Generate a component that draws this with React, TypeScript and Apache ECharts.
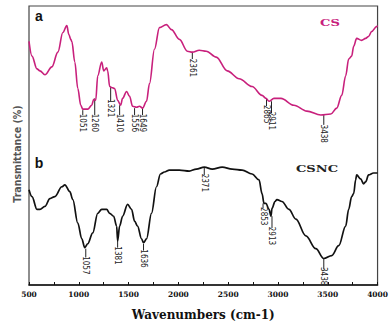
import React, { useEffect, useRef } from "react";
import * as echarts from "echarts";

// CS spectrum (wavenumber cm-1, transmittance arb. units)
const csWavenumber = [500, 530, 580, 610, 660, 730, 790, 840, 880, 900, 920, 930, 960, 990, 1020, 1040, 1090, 1130, 1150, 1170, 1190, 1230, 1250, 1280, 1290, 1310, 1330, 1360, 1390, 1420, 1440, 1480, 1510, 1540, 1580, 1610, 1640, 1680, 1710, 1760, 1810, 1880, 1930, 2010, 2090, 2140, 2210, 2280, 2380, 2490, 2610, 2740, 2840, 2880, 2910, 2960, 3030, 3160, 3290, 3430, 3530, 3590, 3640, 3680, 3710, 3740, 3760, 3790, 3840, 3880, 3910, 3940, 3990, 4000];
const csTransmittance = [248, 233, 220, 218, 214, 222, 237, 257, 264, 255, 250, 248, 227, 200, 183, 179, 179, 183, 189, 188, 213, 227, 218, 221, 218, 202, 201, 200, 188, 183, 190, 197, 192, 182, 181, 182, 180, 187, 205, 240, 262, 265, 260, 250, 238, 237, 239, 238, 232, 218, 210, 202, 193, 190, 187, 190, 190, 183, 177, 173, 174, 180, 193, 213, 230, 233, 243, 251, 249, 251, 253, 258, 263, 264];

// CSNC spectrum
const csncWavenumber = [500, 530, 580, 610, 660, 710, 760, 830, 860, 910, 940, 990, 1030, 1060, 1090, 1140, 1190, 1230, 1280, 1310, 1350, 1380, 1390, 1410, 1440, 1490, 1530, 1560, 1590, 1630, 1650, 1680, 1730, 1780, 1820, 1860, 1910, 2010, 2110, 2180, 2260, 2340, 2440, 2540, 2640, 2740, 2810, 2840, 2860, 2880, 2910, 2930, 2940, 2970, 2990, 3040, 3110, 3180, 3280, 3380, 3460, 3540, 3610, 3680, 3710, 3740, 3760, 3780, 3790, 3830, 3860, 3880, 3910, 3960, 4000];
const csncTransmittance = [97, 90, 77, 77, 80, 88, 90, 100, 102, 95, 87, 63, 47, 38, 42, 53, 73, 77, 77, 73, 70, 60, 45, 60, 70, 82, 77, 65, 60, 47, 43, 47, 73, 100, 113, 115, 117, 117, 116, 118, 120, 118, 120, 118, 117, 113, 107, 93, 83, 83, 77, 70, 78, 85, 87, 85, 77, 67, 50, 37, 27, 30, 40, 60, 77, 90, 93, 107, 112, 108, 103, 105, 112, 114, 114];

// Peak annotations: label, x, line top, line bottom, label centre (data units)
const csPeakLabels = ["1051", "1260", "1321", "1410", "1556", "1649", "2361", "2865", "2911", "3438"];
const csPeakX = [1040, 1160, 1320, 1410, 1560, 1640, 2140, 2885, 2935, 3460];
const csPeakTop = [178, 190, 202, 183, 180, 180, 237, 190, 187, 173];
const csPeakBottom = [173, 173, 187, 173, 173, 173, 230, 182, 175, 163];
const csPeakLabelY = [165, 165, 180, 165, 165, 165, 221, 174, 167, 154];

const csncPeakLabels = ["1057", "1381", "1636", "2371", "2853", "2913", "3438"];
const csncPeakX = [1070, 1390, 1650, 2260, 2850, 2940, 3460];
const csncPeakTop = [37, 45, 42, 120, 83, 70, 27];
const csncPeakBottom = [28, 38, 35, 112, 78, 58, 16];
const csncPeakLabelY = [20, 30, 27, 104, 70, 50, 9];

const CS_COLOR = "#c8207c";

function pairs(xs: number[], ys: number[]) {
  return xs.map((x, i) => [x, ys[i]]);
}

function peakSeries(labels: string[], xs: number[], tops: number[], bottoms: number[], ly: number[]) {
  return {
    type: "custom",
    silent: true,
    data: xs.map((x, i) => [x, tops[i], bottoms[i], ly[i]]),
    encode: { x: 0, y: 1 },
    renderItem: (params: any, api: any) => {
      const x = api.value(0);
      const p1 = api.coord([x, api.value(1)]);
      const p2 = api.coord([x, api.value(2)]);
      const pl = api.coord([x, api.value(3)]);
      return {
        type: "group",
        children: [
          {
            type: "line",
            shape: { x1: p1[0], y1: p1[1], x2: p2[0], y2: p2[1] },
            style: { stroke: "#222", lineWidth: 1 },
          },
          {
            type: "text",
            x: pl[0],
            y: pl[1],
            rotation: -Math.PI / 2,
            style: {
              text: labels[params.dataIndex],
              fontSize: 8,
              fontFamily: "'Liberation Sans Narrow', 'DejaVu Sans Condensed', sans-serif",
              fill: "#222",
              align: "center",
              verticalAlign: "middle",
            },
          },
        ],
      };
    },
  };
}

export default function App() {
  const ref = useRef<HTMLDivElement>(null);
  useEffect(() => {
    if (!ref.current) return;
    const chart = echarts.init(ref.current, undefined, { renderer: "svg" });
    chart.setOption({
      animation: false,
      grid: {
        left: 29,
        right: 12,
        top: 6,
        bottom: 36,
        show: true,
        borderColor: "#444",
        borderWidth: 1.2,
        backgroundColor: "transparent",
      },
      xAxis: {
        type: "value",
        min: 500,
        max: 4000,
        interval: 250,
        name: "Wavenumbers (cm-1)",
        nameLocation: "middle",
        nameGap: 24,
        nameTextStyle: {
          fontFamily: "'DejaVu Serif', serif",
          fontWeight: "bold",
          fontSize: 12,
          color: "#111",
        },
        axisLine: { show: true, lineStyle: { color: "#111", width: 1.5 } },
        axisTick: { show: true, inside: true, length: 3, lineStyle: { color: "#111" } },
        axisLabel: {
          margin: 5,
          fontFamily: "'DejaVu Serif', serif",
          fontWeight: "bold",
          fontSize: 7.5,
          color: "#111",
          formatter: (v: number) => (v % 500 === 0 ? String(v) : ""),
        },
        splitLine: { show: false },
      },
      yAxis: {
        type: "value",
        min: 0,
        max: 284,
        show: false,
        splitLine: { show: false },
      },
      graphic: [
        {
          type: "text",
          x: 17,
          y: 154,
          rotation: Math.PI / 2,
          style: {
            text: "Transmittance (%)",
            fontFamily: "'Liberation Sans Narrow', 'DejaVu Sans Condensed', sans-serif",
            fontWeight: "bold",
            fontSize: 10.5,
            fill: "#555",
            align: "center",
            verticalAlign: "middle",
          },
        },
        {
          type: "text",
          x: 39,
          y: 16,
          style: {
            text: "a",
            fontFamily: "'Liberation Sans', Arial, sans-serif",
            fontWeight: "bold",
            fontSize: 14,
            fill: "#111",
            align: "center",
            verticalAlign: "middle",
          },
        },
        {
          type: "text",
          x: 39,
          y: 163,
          style: {
            text: "b",
            fontFamily: "'Liberation Sans', Arial, sans-serif",
            fontWeight: "bold",
            fontSize: 14,
            fill: "#111",
            align: "center",
            verticalAlign: "middle",
          },
        },
        {
          type: "text",
          x: 330,
          y: 23,
          scaleX: 1.45,
          style: {
            text: "CS",
            fontFamily: "'DejaVu Serif', serif",
            fontWeight: "bold",
            fontSize: 9,
            fill: CS_COLOR,
            align: "center",
            verticalAlign: "middle",
          },
        },
        {
          type: "text",
          x: 317,
          y: 169,
          scaleX: 1.45,
          style: {
            text: "CSNC",
            fontFamily: "'DejaVu Serif', serif",
            fontWeight: "bold",
            fontSize: 9,
            fill: "#222",
            align: "center",
            verticalAlign: "middle",
          },
        },
      ],
      series: [
        {
          name: "CS",
          type: "line",
          data: pairs(csWavenumber, csTransmittance),
          showSymbol: false,
          smooth: 0.35,
          smoothMonotone: "x",
          lineStyle: { color: CS_COLOR, width: 1.6 },
          z: 3,
        },
        {
          name: "CSNC",
          type: "line",
          data: pairs(csncWavenumber, csncTransmittance),
          showSymbol: false,
          smooth: 0.35,
          smoothMonotone: "x",
          lineStyle: { color: "#111", width: 1.7 },
          z: 3,
        },
        peakSeries(csPeakLabels, csPeakX, csPeakTop, csPeakBottom, csPeakLabelY),
        peakSeries(csncPeakLabels, csncPeakX, csncPeakTop, csncPeakBottom, csncPeakLabelY),
      ],
    });
    return () => chart.dispose();
  }, []);
  return (
    <div
      ref={ref}
      style={{ position: "absolute", left: 0, top: 0, width: 391, height: 326 }}
    />
  );
}
